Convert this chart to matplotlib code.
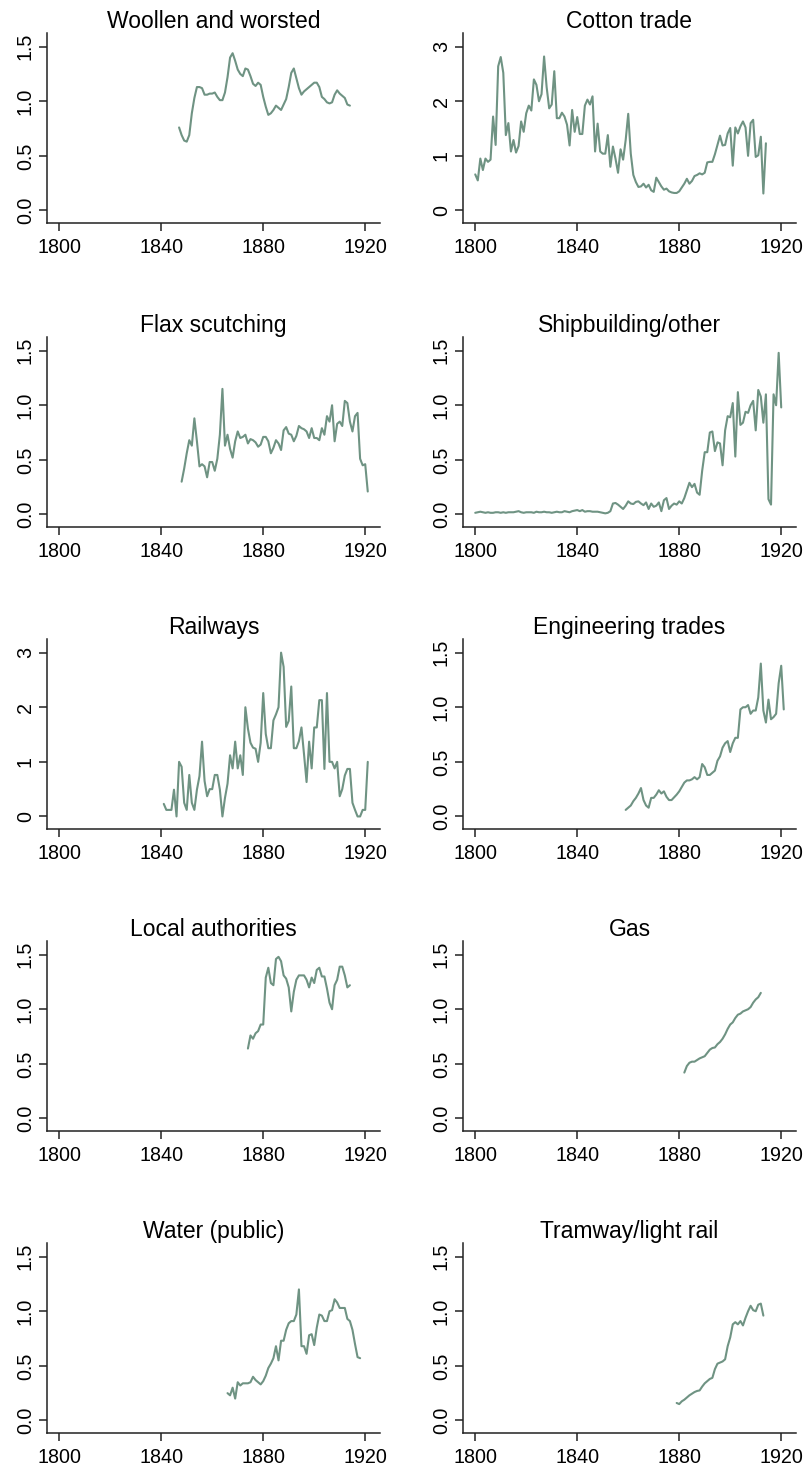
import matplotlib
matplotlib.use('Agg')
import matplotlib.pyplot as plt
import numpy as np

plt.rcParams['font.family'] = ['Liberation Sans', 'DejaVu Sans']

# Annual series (first year + values)
woollen_start = 1847
woollen = [0.76, 0.69, 0.64, 0.63, 0.69, 0.89, 1.03, 1.13, 1.13, 1.12,
           1.06, 1.06, 1.07, 1.07, 1.08, 1.04, 1.01, 1.01, 1.08, 1.22,
           1.40, 1.44, 1.37, 1.29, 1.25, 1.23, 1.30, 1.29, 1.23, 1.16,
           1.14, 1.17, 1.15, 1.04, 0.95, 0.875, 0.89, 0.92, 0.96, 0.94,
           0.92, 0.97, 1.02, 1.13, 1.26, 1.30, 1.21, 1.12, 1.06, 1.09,
           1.11, 1.13, 1.15, 1.17, 1.17, 1.13, 1.04, 1.02, 0.99, 0.98,
           0.99, 1.06, 1.10, 1.07, 1.05, 1.03, 0.97, 0.96]

cotton_start = 1800
cotton = [0.66, 0.55, 0.95, 0.74, 0.95, 0.89, 0.93, 1.72, 1.20, 2.64,
          2.81, 2.52, 1.38, 1.60, 1.08, 1.29, 1.06, 1.18, 1.63, 1.44,
          1.78, 1.92, 1.83, 2.40, 2.30, 2.00, 2.13, 2.82, 2.26, 1.87,
          1.94, 2.55, 1.69, 1.69, 1.79, 1.72, 1.57, 1.19, 1.84, 1.44,
          1.71, 1.40, 1.40, 1.92, 2.03, 1.94, 2.09, 1.08, 1.59, 1.08,
          1.04, 1.04, 1.38, 0.80, 1.17, 0.95, 0.69, 1.12, 0.93, 1.29,
          1.77, 1.04, 0.65, 0.52, 0.43, 0.44, 0.49, 0.42, 0.47, 0.37,
          0.34, 0.60, 0.52, 0.44, 0.38, 0.40, 0.35, 0.33, 0.32, 0.32,
          0.35, 0.42, 0.49, 0.58, 0.49, 0.54, 0.63, 0.65, 0.68, 0.66,
          0.69, 0.88, 0.89, 0.89, 1.03, 1.20, 1.37, 1.19, 1.20, 1.41,
          1.51, 0.82, 1.52, 1.41, 1.54, 1.63, 1.52, 1.00, 1.60, 1.66,
          0.98, 1.01, 1.35, 0.31, 1.23]

flax_start = 1848
flax = [0.30, 0.42, 0.56, 0.68, 0.63, 0.88, 0.67, 0.44, 0.46, 0.44,
        0.34, 0.48, 0.48, 0.40, 0.51, 0.73, 1.15, 0.63, 0.73, 0.60,
        0.52, 0.67, 0.76, 0.70, 0.71, 0.73, 0.65, 0.69, 0.68, 0.66,
        0.62, 0.64, 0.71, 0.71, 0.67, 0.56, 0.61, 0.68, 0.65, 0.59,
        0.77, 0.80, 0.74, 0.73, 0.67, 0.72, 0.81, 0.79, 0.78, 0.76,
        0.70, 0.79, 0.70, 0.70, 0.68, 0.79, 0.73, 0.90, 0.85, 1.00,
        0.67, 0.83, 0.85, 0.81, 1.04, 1.02, 0.85, 0.76, 0.90, 0.93,
        0.51, 0.45, 0.46, 0.21]

ship_start = 1800
ship = [0.015, 0.02, 0.025, 0.02, 0.015, 0.02, 0.015, 0.015, 0.02, 0.02,
        0.015, 0.02, 0.015, 0.02, 0.02, 0.02, 0.025, 0.03, 0.02, 0.015,
        0.02, 0.02, 0.02, 0.015, 0.025, 0.02, 0.02, 0.025, 0.02, 0.02,
        0.015, 0.02, 0.025, 0.02, 0.02, 0.03, 0.025, 0.02, 0.03, 0.035,
        0.04, 0.03, 0.04, 0.025, 0.03, 0.03, 0.025, 0.025, 0.025, 0.02,
        0.015, 0.01, 0.015, 0.03, 0.10, 0.105, 0.09, 0.07, 0.05, 0.08,
        0.12, 0.10, 0.095, 0.115, 0.12, 0.10, 0.085, 0.11, 0.05, 0.10,
        0.07, 0.08, 0.11, 0.03, 0.13, 0.15, 0.05, 0.08, 0.10, 0.09,
        0.12, 0.10, 0.15, 0.22, 0.29, 0.25, 0.28, 0.20, 0.18, 0.40,
        0.57, 0.57, 0.75, 0.76, 0.58, 0.66, 0.65, 0.45, 0.77, 0.90,
        0.89, 1.02, 0.53, 1.12, 0.82, 0.84, 0.94, 0.93, 1.00, 1.04,
        0.77, 1.14, 1.08, 0.84, 1.10, 0.14, 0.09, 1.10, 1.00, 1.48,
        0.98]

rail_start = 1841
rail = [0.23, 0.12, 0.12, 0.12, 0.49, 0.00, 1.00, 0.91, 0.25, 0.12,
        0.76, 0.25, 0.12, 0.49, 0.74, 1.37, 0.65, 0.37, 0.50, 0.50,
        0.76, 0.76, 0.49, 0.00, 0.34, 0.60, 1.12, 0.88, 1.37, 0.88,
        1.12, 0.76, 2.00, 1.61, 1.35, 1.26, 1.24, 1.00, 1.35, 2.26,
        1.51, 1.25, 1.25, 1.76, 1.87, 2.00, 3.00, 2.74, 1.64, 1.75,
        2.38, 1.25, 1.25, 1.38, 1.63, 1.14, 0.63, 1.37, 0.88, 1.63,
        1.63, 2.13, 2.13, 0.87, 2.26, 1.00, 1.00, 0.88, 1.00, 0.37,
        0.50, 0.75, 0.87, 0.87, 0.25, 0.12, 0.00, 0.00, 0.12, 0.12,
        1.00]

eng_start = 1859
eng = [0.06, 0.08, 0.10, 0.14, 0.17, 0.21, 0.26, 0.15, 0.10, 0.08,
       0.17, 0.17, 0.20, 0.24, 0.21, 0.23, 0.18, 0.15, 0.15, 0.175,
       0.20, 0.23, 0.27, 0.31, 0.33, 0.33, 0.34, 0.36, 0.34, 0.36,
       0.48, 0.45, 0.38, 0.38, 0.40, 0.42, 0.51, 0.55, 0.63, 0.67,
       0.69, 0.59, 0.67, 0.72, 0.72, 0.98, 1.00, 1.00, 1.02, 0.94,
       0.97, 0.97, 1.09, 1.40, 0.97, 0.86, 1.07, 0.89, 0.91, 0.94,
       1.22, 1.38, 0.98]

local_start = 1874
local = [0.64, 0.76, 0.73, 0.78, 0.80, 0.86, 0.86, 1.29, 1.38, 1.24,
         1.22, 1.46, 1.48, 1.44, 1.31, 1.28, 1.20, 0.98, 1.16, 1.27,
         1.31, 1.31, 1.31, 1.27, 1.20, 1.29, 1.24, 1.36, 1.38, 1.30,
         1.30, 1.19, 1.06, 1.00, 1.22, 1.27, 1.39, 1.39, 1.31, 1.20,
         1.22]

gas_start = 1882
gas = [0.42, 0.48, 0.51, 0.52, 0.52, 0.535, 0.55, 0.56, 0.57, 0.60,
       0.63, 0.645, 0.65, 0.68, 0.70, 0.73, 0.77, 0.82, 0.86, 0.88,
       0.92, 0.95, 0.96, 0.98, 0.99, 1.00, 1.02, 1.06, 1.09, 1.11,
       1.15]

water_start = 1866
water = [0.25, 0.23, 0.30, 0.20, 0.35, 0.32, 0.34, 0.34, 0.34, 0.35,
         0.40, 0.37, 0.35, 0.33, 0.36, 0.41, 0.48, 0.52, 0.57, 0.68,
         0.55, 0.73, 0.73, 0.83, 0.89, 0.91, 0.91, 0.97, 1.20, 0.68,
         0.68, 0.61, 0.78, 0.79, 0.69, 0.85, 0.97, 0.96, 0.91, 0.91,
         1.00, 1.01, 1.11, 1.08, 1.03, 1.03, 1.03, 0.93, 0.91, 0.83,
         0.70, 0.58, 0.57]

tram_start = 1879
tram = [0.16, 0.15, 0.175, 0.19, 0.21, 0.23, 0.245, 0.26, 0.27, 0.275,
        0.31, 0.34, 0.36, 0.38, 0.39, 0.47, 0.52, 0.53, 0.54, 0.56,
        0.68, 0.76, 0.88, 0.90, 0.88, 0.91, 0.87, 0.94, 1.00, 1.05,
        1.01, 1.00, 1.06, 1.07, 0.96]

titles = ['Woollen and worsted', 'Cotton trade', 'Flax scutching',
          'Shipbuilding/other', 'Railways', 'Engineering trades',
          'Local authorities', 'Gas', 'Water (public)', 'Tramway/light rail']
starts = [woollen_start, cotton_start, flax_start, ship_start, rail_start,
          eng_start, local_start, gas_start, water_start, tram_start]
series = [woollen, cotton, flax, ship, rail, eng, local, gas, water, tram]
big_scale = [False, True, False, False, True, False, False, False, False, False]

x_ticks = [1800, 1840, 1880, 1920]

LINE_COLOR = '#6f9383'
AXIS_COLOR = '#222222'

W, H = 808, 1472
fig = plt.figure(figsize=(W / 100, H / 100), dpi=100)

col_x = [47, 463]
row_top = [33, 337, 639, 941, 1243]
ax_w, ax_h = 333, 190

for i, (title, start, vals, big) in enumerate(zip(titles, starts, series, big_scale)):
    r, c = divmod(i, 2)
    ax = fig.add_axes([col_x[c] / W, 1 - (row_top[r] + ax_h) / H, ax_w / W, ax_h / H])
    years = np.arange(start, start + len(vals))
    ax.plot(years, vals, color=LINE_COLOR, lw=1.5, solid_joinstyle='round',
            solid_capstyle='round')

    ax.set_xlim(1795.2, 1925.8)
    ax.set_xticks(x_ticks)
    if big:
        ax.set_ylim(-0.23, 3.25)
        ax.set_yticks([0, 1, 2, 3])
        ax.set_yticklabels(['0', '1', '2', '3'])
    else:
        ax.set_ylim(-0.115, 1.625)
        ax.set_yticks([0, 0.5, 1.0, 1.5])
        ax.set_yticklabels(['0.0', '0.5', '1.0', '1.5'])

    for side in ['top', 'right']:
        ax.spines[side].set_visible(False)
    for side in ['left', 'bottom']:
        ax.spines[side].set_color(AXIS_COLOR)
        ax.spines[side].set_linewidth(1.1)

    ax.tick_params(axis='both', length=5.8, width=1.1, color=AXIS_COLOR,
                   labelsize=14.2, labelcolor='black')
    ax.tick_params(axis='x', pad=5)
    ax.tick_params(axis='y', pad=3)
    for lab in ax.get_yticklabels():
        lab.set_rotation(90)
        lab.set_va('center')

    ax.set_title(title, fontsize=16.5, pad=3)

fig.savefig('out.png', dpi=100)
